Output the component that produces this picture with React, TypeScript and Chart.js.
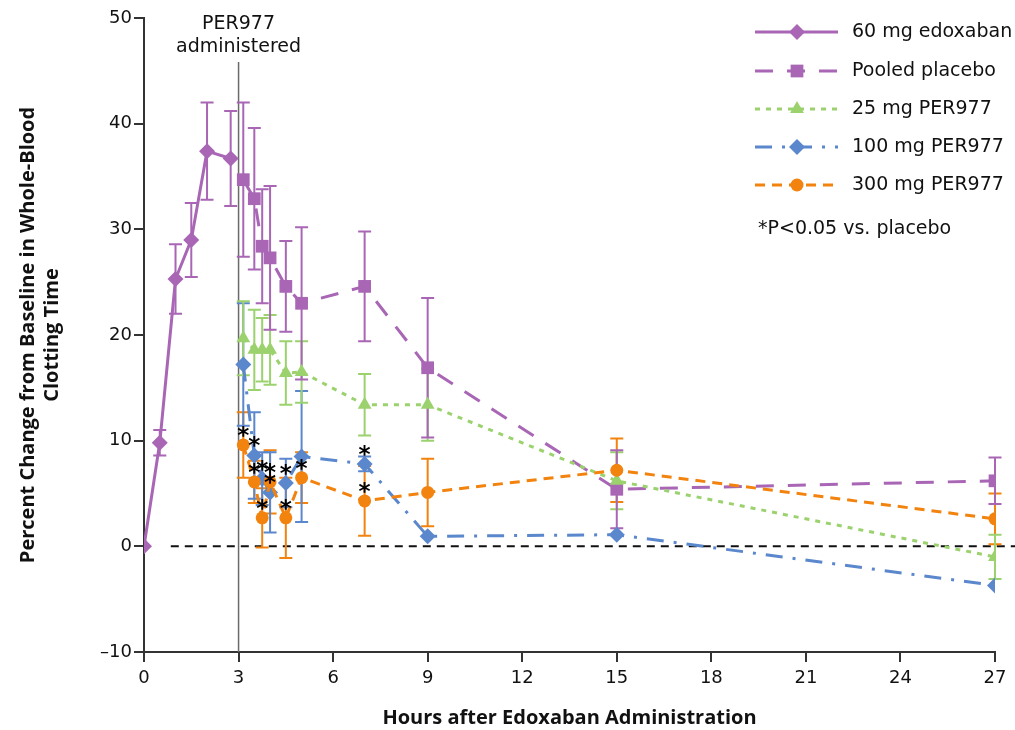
import React, { useEffect, useRef } from "react";
import { Chart, registerables } from "chart.js";
Chart.register(...registerables);

// ---- Data ----
const edoxabanTimes = [0, 0.5, 1, 1.5, 2, 2.75];
const edoxabanMean = [0, 9.8, 25.3, 29.0, 37.4, 36.7];
const edoxabanErr = [0, 1.2, 3.3, 3.5, 4.6, 4.5];

const perTimes = [3.15, 3.5, 3.75, 4, 4.5, 5, 7, 9, 15, 27];
const placeboMean = [34.7, 32.9, 28.4, 27.3, 24.6, 23.0, 24.6, 16.9, 5.4, 6.2];
const placeboErr = [7.3, 6.7, 5.4, 6.8, 4.3, 7.2, 5.2, 6.6, 3.7, 2.2];
const mg25Mean = [19.7, 18.6, 18.6, 18.6, 16.4, 16.5, 13.4, 13.4, 6.2, -1.0];
const mg25Err = [3.5, 3.8, 3.0, 3.3, 3.0, 2.9, 2.9, 3.4, 2.7, 2.1];
const mg100Mean = [17.2, 8.6, 6.4, 5.1, 6.0, 8.5, 7.8, 0.95, 1.1, -3.7];
const mg100Err = [5.8, 4.1, 2.5, 3.8, 2.3, 6.2, 0.7, 0, 0, 0];
const mg300Mean = [9.6, 6.1, 2.7, 6.1, 2.7, 6.5, 4.3, 5.1, 7.2, 2.6];
const mg300Err = [3.1, 2.0, 2.8, 3.0, 3.8, 2.4, 3.3, 3.2, 3.0, 2.4];
const mg100Sig = [false, true, true, true, true, false, true, false, false, false];
const mg300Sig = [true, true, true, true, true, true, true, false, false, false];

const seriesLabels = ["60 mg edoxaban", "Pooled placebo", "25 mg PER977", "100 mg PER977", "300 mg PER977"];
const noteLabel = "*P<0.05 vs. placebo";
const markerLabel = ["PER977", "administered"];
const markerTime = 3;
const yTitle = ["Percent Change from Baseline in Whole-Blood", "Clotting Time"];
const xTitle = "Hours after Edoxaban Administration";

const PURPLE = "#A866B5";
const GREEN = "#9BD26E";
const BLUE = "#5B87CC";
const ORANGE = "#F2830F";

const pts = (xs: number[], ys: number[]) => xs.map((x, i) => ({ x, y: ys[i] }));

function drawMarker(ctx: CanvasRenderingContext2D, style: string, x: number, y: number, r: number, color: string) {
  ctx.save();
  ctx.fillStyle = color;
  ctx.setLineDash([]);
  ctx.beginPath();
  if (style === "rectRot") {
    ctx.moveTo(x, y - r); ctx.lineTo(x + r, y); ctx.lineTo(x, y + r); ctx.lineTo(x - r, y);
  } else if (style === "rect") {
    const s = r * Math.SQRT1_2;
    ctx.rect(x - s, y - s, 2 * s, 2 * s);
  } else if (style === "triangle") {
    const h = r * 1.5;
    ctx.moveTo(x, y - r); ctx.lineTo(x + r * 0.87, y + h - r); ctx.lineTo(x - r * 0.87, y + h - r);
  } else {
    ctx.arc(x, y, r, 0, Math.PI * 2);
  }
  ctx.closePath();
  ctx.fill();
  ctx.restore();
}

const errorBarPlugin = {
  id: "errorBars",
  beforeDatasetsDraw(chart: any) {
    const ctx = chart.ctx; const xs = chart.scales.x; const ys = chart.scales.y;
    chart.data.datasets.forEach((ds: any) => {
      const errs = ds.errors; if (!errs) return;
      ctx.save();
      ctx.strokeStyle = ds.borderColor; ctx.lineWidth = 2; ctx.setLineDash([]);
      ds.data.forEach((p: any, j: number) => {
        const e = errs[j]; if (!e) return;
        const px = xs.getPixelForValue(p.x);
        const top = ys.getPixelForValue(p.y + e); const bot = ys.getPixelForValue(p.y - e);
        ctx.beginPath();
        ctx.moveTo(px, top); ctx.lineTo(px, bot);
        ctx.moveTo(px - 6.5, top); ctx.lineTo(px + 6.5, top);
        ctx.moveTo(px - 6.5, bot); ctx.lineTo(px + 6.5, bot);
        ctx.stroke();
      });
      ctx.restore();
    });
  },
};

const refLinesPlugin = {
  id: "refLines",
  beforeDatasetsDraw(chart: any) {
    const ctx = chart.ctx; const xs = chart.scales.x; const ys = chart.scales.y;
    const area = chart.chartArea;
    ctx.save();
    // zero line
    ctx.strokeStyle = "#111"; ctx.lineWidth = 2; ctx.setLineDash([8, 6]);
    const y0 = ys.getPixelForValue(0);
    ctx.beginPath(); ctx.moveTo(xs.getPixelForValue(0.85), y0); ctx.lineTo(chart.width, y0); ctx.stroke();
    // administration line
    ctx.setLineDash([]); ctx.strokeStyle = "#6a6a6a"; ctx.lineWidth = 1.5;
    const x3 = xs.getPixelForValue(markerTime);
    ctx.beginPath(); ctx.moveTo(x3, 62); ctx.lineTo(x3, area.bottom); ctx.stroke();
    ctx.fillStyle = "#111"; ctx.font = "19px 'DejaVu Sans'"; ctx.textAlign = "center"; ctx.textBaseline = "middle";
    ctx.fillText(markerLabel[0], x3, 24);
    ctx.fillText(markerLabel[1], x3, 47);
    ctx.restore();
  },
};

const starsPlugin = {
  id: "stars",
  afterDatasetsDraw(chart: any) {
    const ctx = chart.ctx; const xs = chart.scales.x; const ys = chart.scales.y;
    ctx.save();
    ctx.fillStyle = "#000"; ctx.font = "bold 23px 'DejaVu Sans'"; ctx.textAlign = "center"; ctx.textBaseline = "alphabetic";
    chart.data.datasets.forEach((ds: any) => {
      if (!ds.sig) return;
      ds.data.forEach((p: any, j: number) => {
        if (!ds.sig[j]) return;
        const px = xs.getPixelForValue(p.x); const py = ys.getPixelForValue(p.y);
        ctx.fillText("*", px, py - 15 + 13);
      });
    });
    ctx.restore();
  },
};

const legendPlugin = {
  id: "customLegend",
  afterDraw(chart: any) {
    const ctx = chart.ctx;
    const rows = [32, 71, 109, 147, 185];
    const byRow = [...chart.data.datasets].sort((a: any, b: any) => a.legendRow - b.legendRow);
    ctx.save();
    byRow.forEach((ds: any, i: number) => {
      const y = rows[i];
      ctx.strokeStyle = ds.borderColor; ctx.lineWidth = 3; ctx.setLineDash(ds.borderDash || []);
      ctx.beginPath(); ctx.moveTo(755, y); ctx.lineTo(838, y); ctx.stroke();
      drawMarker(ctx, ds.pointStyle, 797, y, ds.pointRadius, ds.borderColor);
      ctx.fillStyle = "#111"; ctx.font = "19px 'DejaVu Sans'"; ctx.textAlign = "left"; ctx.textBaseline = "middle";
      ctx.fillText(ds.label, 852, y);
    });
    ctx.fillText(noteLabel, 758, 229);
    ctx.restore();
  },
};

export default function App() {
  const ref = useRef<HTMLCanvasElement>(null);
  useEffect(() => {
    document.body.style.margin = "0";
    const common = { showLine: true, borderWidth: 3, pointBorderWidth: 0, pointHoverRadius: 0 };
    const chart = new Chart(ref.current as HTMLCanvasElement, {
      type: "scatter",
      data: {
        datasets: [
          { ...common, label: seriesLabels[4], legendRow: 4, order: 0, data: pts(perTimes, mg300Mean), errors: mg300Err, sig: mg300Sig,
            borderColor: ORANGE, backgroundColor: ORANGE, borderDash: [10, 7], pointStyle: "circle", pointRadius: 6.5 } as any,
          { ...common, label: seriesLabels[3], legendRow: 3, order: 1, data: pts(perTimes, mg100Mean), errors: mg100Err, sig: mg100Sig,
            borderColor: BLUE, backgroundColor: BLUE, borderDash: [17, 10, 3, 10], pointStyle: "rectRot", pointRadius: 8 } as any,
          { ...common, label: seriesLabels[2], legendRow: 2, order: 2, data: pts(perTimes, mg25Mean), errors: mg25Err,
            borderColor: GREEN, backgroundColor: GREEN, borderDash: [5, 6], pointStyle: "triangle", pointRadius: 8 } as any,
          { ...common, label: seriesLabels[1], legendRow: 1, order: 3, data: pts(perTimes, placeboMean), errors: placeboErr,
            borderColor: PURPLE, backgroundColor: PURPLE, borderDash: [18, 14], pointStyle: "rect", pointRadius: 9 } as any,
          { ...common, label: seriesLabels[0], legendRow: 0, order: 4, data: pts(edoxabanTimes, edoxabanMean), errors: edoxabanErr,
            borderColor: PURPLE, backgroundColor: PURPLE, pointStyle: "rectRot", pointRadius: 8 } as any,
        ],
      },
      options: {
        animation: false,
        responsive: false,
        layout: { padding: { top: 18, right: 20, left: 0, bottom: 0 } },
        plugins: { legend: { display: false }, tooltip: { enabled: false } },
        scales: {
          x: {
            type: "linear", min: 0, max: 27,
            afterFit: (s: any) => { s.height = 78; },
            ticks: { stepSize: 3, color: "#111", font: { family: "DejaVu Sans", size: 18 }, padding: 6, maxRotation: 0 },
            grid: { drawOnChartArea: false, drawTicks: true, tickLength: 10, color: "#333", lineWidth: 2 },
            border: { display: true, color: "#333", width: 2 },
            title: { display: true, text: xTitle, color: "#111", font: { family: "Open Sans", size: 20, weight: "bold", lineHeight: 1.2 }, padding: { top: 0, bottom: 0 } },
          },
          y: {
            type: "linear", min: -10, max: 50,
            afterFit: (s: any) => { s.width = 144; },
            ticks: { stepSize: 10, color: "#111", font: { family: "DejaVu Sans", size: 18 }, padding: 2,
              callback: (v: any) => String(v).replace("-", "\u2013") },
            grid: { drawOnChartArea: false, drawTicks: true, tickLength: 10, color: "#333", lineWidth: 2 },
            border: { display: true, color: "#333", width: 2 },
            title: { display: true, text: yTitle, color: "#111", font: { family: "Open Sans", size: 20, weight: "bold", lineHeight: 1.2 }, padding: { top: 16, bottom: 0 } },
          },
        },
      } as any,
      plugins: [refLinesPlugin, errorBarPlugin, starsPlugin, legendPlugin],
    });
    return () => chart.destroy();
  }, []);
  return (
    <div style={{ width: 1015, height: 730 }}>
      <canvas ref={ref} width={1015} height={730} />
    </div>
  );
}
